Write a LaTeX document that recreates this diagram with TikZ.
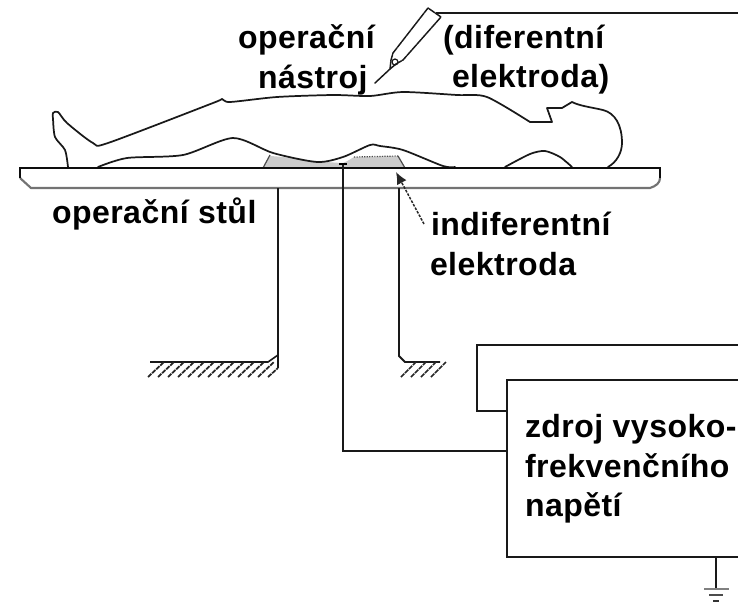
\documentclass[tikz,border=0pt]{standalone}
\usepackage{fontspec}
\setmainfont{Liberation Sans}[BoldFont={Liberation Sans Bold},BoldFeatures={LetterSpace=1.5}]
\usetikzlibrary{arrows.meta,patterns}
\tikzset{
  lbl/.style={anchor=base west,inner sep=0pt,outer sep=0pt,font=\bfseries\fontsize{24}{28}\selectfont,text=black},
  heavy/.style={draw=black!90,line width=1.8pt,line join=miter},
  body/.style={draw=black!90,line width=1.3pt,line join=round,line cap=round},
  tbl/.style={draw=black!95,line width=1.8pt},
  hatchline/.style={draw=black!85,line width=1.3pt,dash pattern=on 3.5pt off 0.7pt},
  elec/.style={fill=black!22,draw=black!70,line width=.9pt},
  thin/.style={draw=black!80,line width=.9pt}
}
\begin{document}
\begin{tikzpicture}[x=0.75pt,y=-0.75pt]
\useasboundingbox (0,0) rectangle (738,604);
% electrodes
\fill[black!20] (263,168) -- (270,156) .. controls (290,157) and (315,162) .. (343,163) .. controls (350,160) and (352,158) .. (354,157) -- (398,156) -- (405,168) -- cycle;
\draw[elec,fill=none] (263,168) -- (270,155);
\draw[elec,fill=none,densely dotted] (354,157) -- (398,156);
\draw[elec,fill=none] (398,156) -- (405,168);
% body outline
\draw[body] plot[smooth,tension=.45] coordinates {(68,167)(65,150)(55,137)(53,119)(53,113)(58,112)(67,123)(93,143)(108,143)(213,103)(222,99)(230,102)(277,97)(333,95)(370,96)(403,92)(457,95)(487,97)(530,122)}
  -- (552,122) -- (547,108) -- (562,108) -- (572,102) .. controls (580,106) and (590,107) .. (603,110) .. controls (615,113) and (622,125) .. (622,143) .. controls (622,152) and (617,162) .. (608,167);
\draw[body] plot[smooth,tension=.45] coordinates {(572,167)(560,157)(545,151)(530,154)(505,167)};
\draw[body] plot[smooth,tension=.45] coordinates {(98,167)(127,158)(183,155)(233,138)(273,153)(317,162)(343,157)(370,145)(380,146)(403,150)(443,166)(455,167)};
% table
\coordinate (tl) at (20,168); \coordinate (tr) at (660,168);
\draw[thin,line width=1.6pt,draw=black!55] (20,178) -- (31,188) -- (650,188) .. controls (656,186) and (660,183) .. (660,178);
\draw[tbl] (20,178) -- (tl) -- (tr) -- (660,178);
% stands
\coordinate (sa) at (278,188); \coordinate (sb) at (278,356);
\coordinate (sc) at (399,188); \coordinate (sd) at (399,356);
\draw[heavy,line width=1.5pt] (sa) -- (sb) -- (278,368);
\draw[heavy,line width=1.4pt] (sc) -- (sd) -- (405,362) -- (440,362);
\draw[heavy,line width=1.2pt] (150,362) -- (268,362) -- (278,355);
\foreach \x in {148,158,...,258}{\draw[hatchline] (\x,377) -- (\x+16,362);}
\draw[hatchline] (268,377) -- (278,368);
\foreach \x in {401,411,421,431}{\draw[hatchline] (\x,377) -- (\x+15,362);}
% power source
\coordinate (pa) at (507,380); \coordinate (pb) at (738,380);
\coordinate (pc) at (507,557); \coordinate (pd) at (738,557);
\draw[heavy] (pb) -- (pa) -- (pc) -- (pd);
\coordinate (oa) at (738,345); \coordinate (ob) at (477,345); \coordinate (oc) at (477,411); \coordinate (od) at (507,411);
\draw[heavy] (oa) -- (ob) -- (oc) -- (od);
% lead to plate
\coordinate (e1) at (343,163); \coordinate (e2) at (343,451); \coordinate (e3) at (507,451);
\draw[heavy] (e1) -- (e2) -- (e3);
\fill[black] (339,163) rectangle (347,165);
% ground
\coordinate (g1) at (716,557); \coordinate (g2) at (716,590);
\draw[heavy,line width=1.5pt] (g1) -- (g2);
\draw[draw=black!50,line width=1.2pt] (704,589) -- (729,589);
\draw[draw=black!70,line width=1.2pt] (709,595) -- (723,595);
\draw[draw=black!80,line width=1.2pt] (713,601) -- (719,601);
% instrument
\coordinate (w1) at (436,13); \coordinate (w2) at (738,13);
\draw[heavy] (w1) -- (w2);
\draw[body,line width=1.1pt,dash pattern=on 5pt off .5pt] (393,53) -- (428,8) -- (441,17) -- (403,60) -- (396,64) -- (390,69) -- (391,60) -- cycle;
\draw[body,line width=1.1pt] (390,69) -- (375,83);
\draw[body,line width=.9pt] (395,62) circle (3);
% pointer
\coordinate (p1) at (424,224); \coordinate (p2) at (396,172);
\draw[draw=black!85,line width=1.1pt,dash pattern=on 2pt off 1pt,-{Latex[length=9pt,width=8pt]}] (p1) -- (p2);
% text
\node[lbl] (t1) at (238,48) {operační};
\node[lbl] (t2) at (258,88) {nástroj};
\node[lbl] (t3) at (443,48) {(diferentní};
\node[lbl] (t4) at (452,87) {elektroda)};
\node[lbl] (t5) at (52,223) {operační stůl};
\node[lbl] (t6) at (431,235) {indiferentní};
\node[lbl] (t7) at (430,275) {elektroda};
\node[lbl] (t8) at (525,437) {zdroj vysoko-};
\node[lbl] (t9) at (525,477) {frekvenčního};
\node[lbl] (t10) at (525,516) {napětí};
\end{tikzpicture}
\end{document}
